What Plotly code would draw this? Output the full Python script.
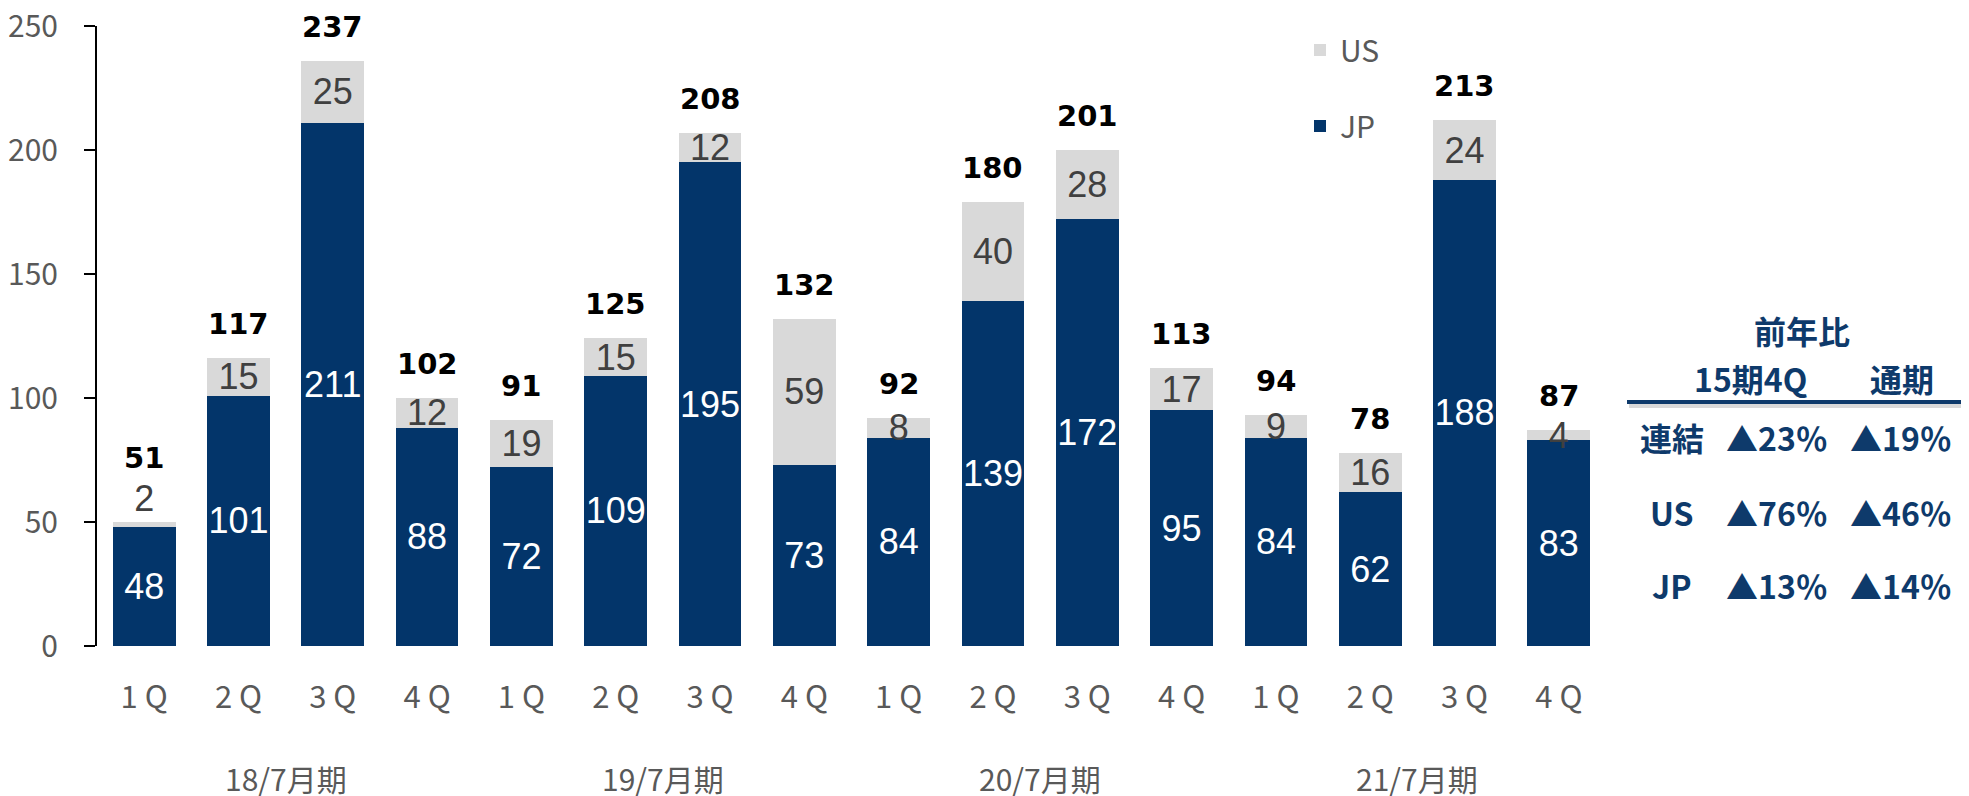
import plotly.graph_objects as go

# ---------------- data ----------------
periods = ["18/7月期", "19/7月期", "20/7月期", "21/7月期"]
quarters = ["1 Q", "2 Q", "3 Q", "4 Q"]
jp = [48, 101, 211, 88, 72, 109, 195, 73, 84, 139, 172, 95, 84, 62, 188, 83]
us = [2, 15, 25, 12, 19, 15, 12, 59, 8, 40, 28, 17, 9, 16, 24, 4]
totals = [51, 117, 237, 102, 91, 125, 208, 132, 92, 180, 201, 113, 94, 78, 213, 87]
y_ticks = [0, 50, 100, 150, 200, 250]

table_title = "前年比"
table_cols = ["15期4Q", "通期"]
table_rows = ["連結", "US", "JP"]
table_q4 = ["▲23％", "▲76％", "▲13％"]
table_year = ["▲19％", "▲46％", "▲14％"]

# ---------------- style ----------------
OFF = 8                      # default body margin of the html page
W, H = 1969 - OFF, 796 - OFF
ML, MR, MT, MB = 97 - OFF, 363, 26 - OFF, 150
JP_COLOR = "#03356A"
US_COLOR = "#D9D9D9"
NAVY = "#0E3A6B"
GREY = "#595959"
CJK = "Noto Sans CJK JP"

cats = [f"{p}|{q}" for p in periods for q in quarters]
tick_text = [q for p in periods for q in quarters]
stack_top = [a + b for a, b in zip(jp, us)]
total_shift = [64] + [34] * (len(cats) - 1)
us_textpos = ["outside"] + ["inside"] * (len(cats) - 1)

pw = W - ML - MR
ph = H - MT - MB


def px_x(px):
    # page pixel -> paper coordinate
    return (px - OFF - ML) / pw


def px_y(py):
    return (H - MB - (py - OFF)) / ph


fig = go.Figure()
fig.add_trace(go.Bar(
    x=cats, y=jp, name="JP", legendgroup="jp", legendrank=2,
    marker=dict(color=JP_COLOR, line=dict(width=0)),
    text=[str(v) for v in jp], textposition="inside", insidetextanchor="middle",
    textangle=0, constraintext="none", cliponaxis=False,
    textfont=dict(family="Liberation Sans, Arial", size=36, color="white"),
))
fig.add_trace(go.Bar(
    x=cats, y=us, name="US", legendgroup="us", legendrank=1,
    marker=dict(color=US_COLOR, line=dict(width=0)),
    text=[str(v) for v in us], textposition=us_textpos, insidetextanchor="middle",
    textangle=0, constraintext="none", cliponaxis=False,
    textfont=dict(family="Liberation Sans, Arial", size=36, color="#404040"),
    outsidetextfont=dict(family="Liberation Sans, Arial", size=36, color="#404040"),
))

annotations = []
# totals above stacks
for c, t, s, sh in zip(cats, totals, stack_top, total_shift):
    annotations.append(dict(
        x=c, y=s, xref="x", yref="y", text=str(t), showarrow=False,
        xanchor="center", yanchor="middle", yshift=sh,
        font=dict(family="DejaVu Sans", size=29, color="black", weight="bold"),
    ))
# period group labels
for i, p in enumerate(periods):
    annotations.append(dict(
        x=i * len(quarters) + (len(quarters) - 1) / 2, y=px_y(778),
        xref="x", yref="paper", text=p, showarrow=False,
        xanchor="center", yanchor="middle",
        font=dict(family=CJK, size=30, color=GREY),
    ))

# comparison table
tfont = dict(family=CJK, size=32, color=NAVY, weight="bold")


def tab(txt, cx, cy):
    annotations.append(dict(x=px_x(cx), y=px_y(cy), xref="paper", yref="paper",
                            text=txt, showarrow=False, xanchor="center",
                            yanchor="middle", font=tfont))


tab(table_title, 1802, 330)
for txt, cx in zip(table_cols, [1750, 1902]):
    tab(txt, cx, 378)
for r, a, b, cy in zip(table_rows, table_q4, table_year, [437, 512, 585]):
    tab(r, 1672, cy)
    tab(a, 1777, cy)
    tab(b, 1901, cy)

shapes = [
    dict(type="line", xref="paper", yref="paper", x0=px_x(1629), x1=px_x(1969),
         y0=px_y(406), y1=px_y(406), line=dict(color="rgba(0,0,0,0.15)", width=4)),
    dict(type="line", xref="paper", yref="paper", x0=px_x(1627), x1=px_x(1969),
         y0=px_y(402), y1=px_y(402), line=dict(color=NAVY, width=4)),
]

fig.update_layout(
    width=W, height=H,
    margin=dict(l=ML, r=MR, t=MT, b=MB, autoexpand=False),
    barmode="stack", bargap=0.335,
    plot_bgcolor="white", paper_bgcolor="white",
    font=dict(family=CJK, color=GREY),
    showlegend=True,
    legend=dict(
        x=px_x(1300), y=px_y(24), xanchor="left", yanchor="top",
        traceorder="grouped", tracegroupgap=34,
        font=dict(family=CJK, size=30, color=GREY),
        bgcolor="rgba(0,0,0,0)",
    ),
    xaxis=dict(
        type="category", tickmode="array", tickvals=cats, ticktext=tick_text,
        range=[-0.5, len(cats) - 0.5], showline=False, showgrid=False,
        zeroline=False, ticks="", ticklabelstandoff=30,
        tickfont=dict(family=CJK, size=31, color=GREY),
    ),
    yaxis=dict(
        range=[0, 250], tickmode="array", tickvals=y_ticks,
        showline=True, linecolor="black", linewidth=2,
        ticks="outside", ticklen=11, tickwidth=2, tickcolor="black",
        showgrid=False, zeroline=False, ticklabelstandoff=20,
        ticklabeloverflow="allow",
        tickfont=dict(family=CJK, size=30, color=GREY),
    ),
    annotations=annotations,
    shapes=shapes,
)

fig.write_html("out.html")
